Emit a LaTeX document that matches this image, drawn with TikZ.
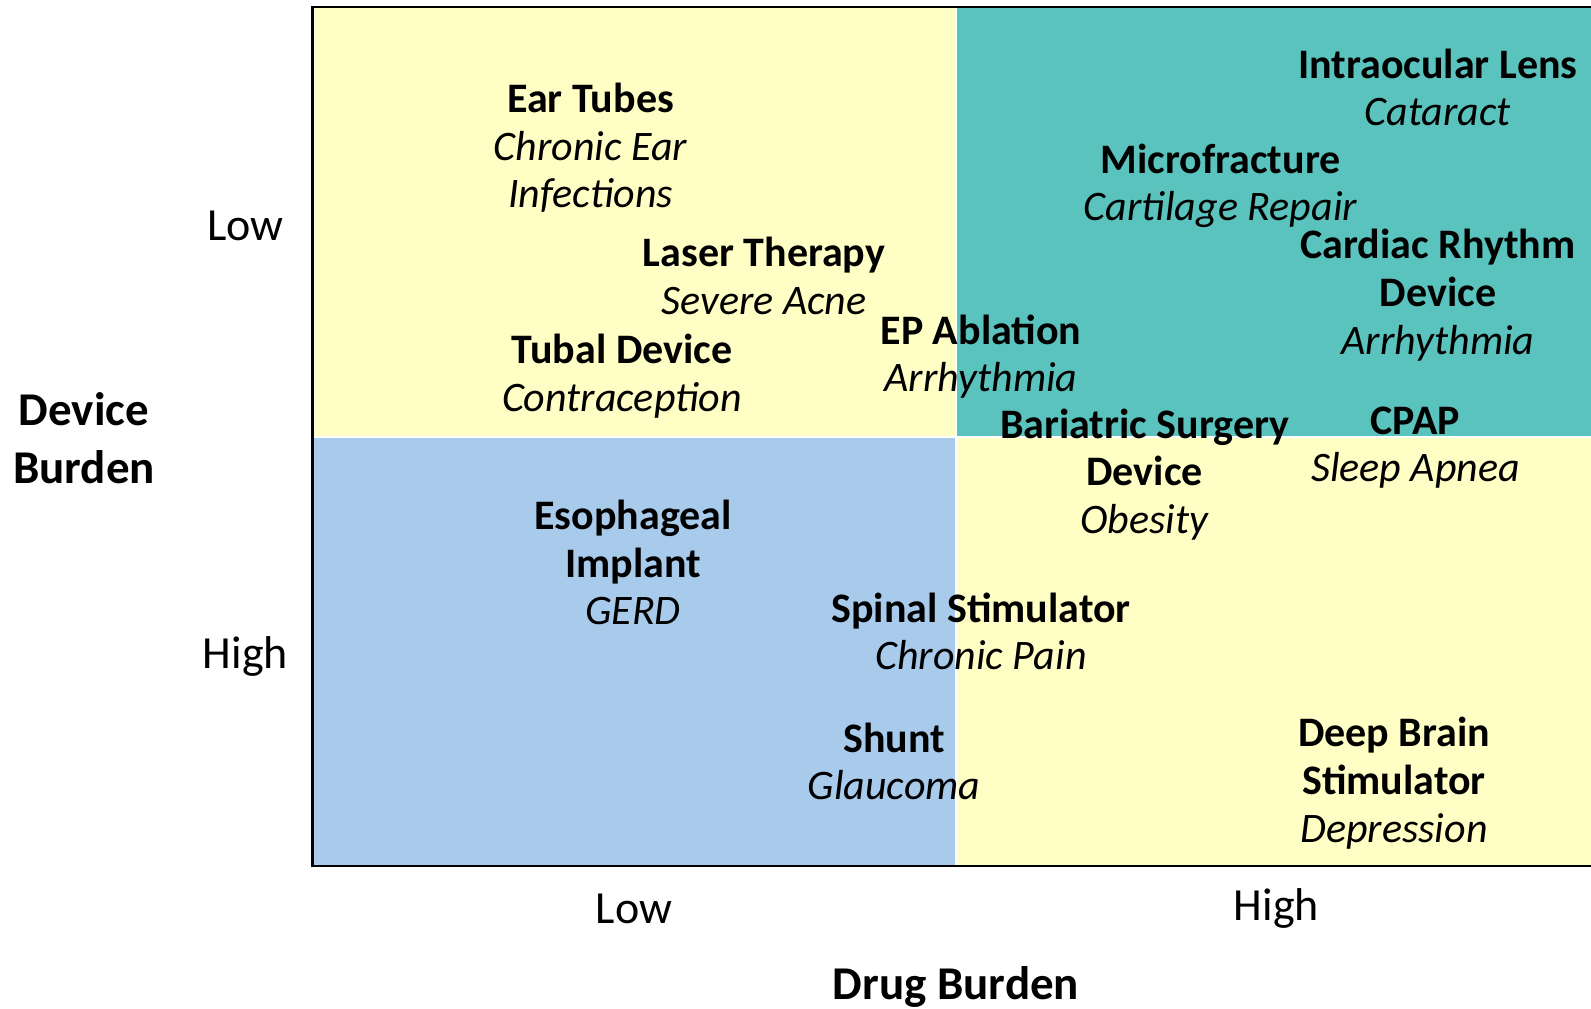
\documentclass[tikz,border=0pt]{standalone}
\usepackage{fontspec}
\setmainfont{Carlito}
\definecolor{qyellow}{HTML}{FFFFC5}
\definecolor{qteal}{HTML}{5BC3BD}
\definecolor{qblue}{HTML}{A8CBEC}
\begin{document}
\begin{tikzpicture}[x=1pt,y=-1pt,
  item/.style={align=center,inner sep=0pt,font=\fontsize{42}{47.7}\selectfont},
  axlab/.style={inner sep=0pt,font=\fontsize{46}{56}\selectfont},
  axtitle/.style={align=center,inner sep=0pt,font=\bfseries\fontsize{47}{58}\selectfont}]
\useasboundingbox (0,0) rectangle (1591,1009);
% quadrants
\fill[qyellow] (313,7) rectangle (954.5,435.5);
\fill[qteal] (957,7) rectangle (1591,435.5);
\fill[qblue] (313,437.5) rectangle (954.5,866);
\fill[qyellow] (957,437.5) rectangle (1591,866);
% frame
\draw[line width=2.5pt] (1591,7) -- (312.5,7) -- (312.5,866) -- (1591,866);
% items
\node[item] (ear) at (590.6,148) {\textbf{Ear Tubes}\\\textit{Chronic Ear}\\\textit{Infections}};
\node[item] (laser) at (764,276) {\textbf{Laser Therapy}\\\textit{Severe Acne}};
\node[item] (tubal) at (622,376) {\textbf{Tubal Device}\\\textit{Contraception}};
\node[item] (ep) at (981,356.5) {\textbf{EP Ablation}\\\textit{Arrhythmia}};
\node[item] (iol) at (1438,87.5) {\textbf{Intraocular Lens}\\\textit{Cataract}};
\node[item] (micro) at (1220.7,186) {\textbf{Microfracture}\\\textit{Cartilage Repair}};
\node[item] (crd) at (1438,295) {\textbf{Cardiac Rhythm}\\\textbf{Device}\\\textit{Arrhythmia}};
\node[item] (bar) at (1144.6,474.5) {\textbf{Bariatric Surgery}\\\textbf{Device}\\\textit{Obesity}};
\node[item] (cpap) at (1415.5,447.5) {\textbf{CPAP}\\\textit{Sleep Apnea}};
\node[item] (eso) at (633,562.5) {\textbf{Esophageal}\\\textbf{Implant}\\\textit{GERD}};
\node[item] (spinal) at (981,631.5) {\textbf{Spinal Stimulator}\\\textit{Chronic Pain}};
\node[item] (shunt) at (894,761.5) {\textbf{Shunt}\\\textit{Glaucoma}};
\node[item] (dbs) at (1394,783) {\textbf{Deep Brain}\\\textbf{Stimulator}\\\textit{Depression}};
% axes labels
\node[axlab] (ylow) at (245.5,226) {Low};
\node[axlab] (yhigh) at (245.5,656) {High};
\node[axtitle] (ytitle) at (84,438) {Device\\Burden};
\node[axlab] (xlow) at (634,908.5) {Low};
\node[axlab] (xhigh) at (1276.5,908.5) {High};
\node[axtitle] (xtitle) at (956,987) {Drug Burden};
\end{tikzpicture}
\end{document}
